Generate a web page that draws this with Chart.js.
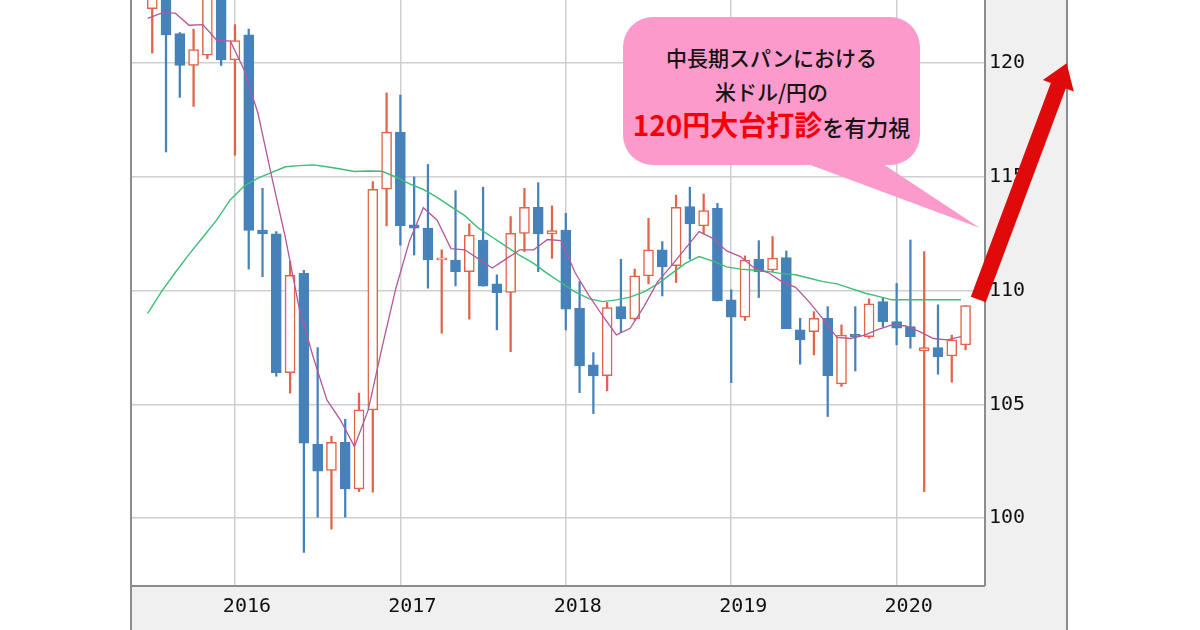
<!DOCTYPE html>
<html>
<head>
  <meta charset="UTF-8">
  <title>USD/JPY monthly</title>
  <script src="https://cdn.jsdelivr.net/npm/chart.js"></script>
  <style>
    body {
      margin: 0;
      background: #fff;
    }
    #wrap {
      position: relative;
      width: 1200px;
      height: 630px;
      overflow: hidden;
    }
    #chart, #overlay {
      position: absolute;
      left: 0;
      top: 0;
    }
    .bubble {
      position: absolute;
      left: 623px;
      top: 17px;
      width: 297px;
      height: 148px;
      padding-top: 24px;
      box-sizing: border-box;
      background: #fc9bcb;
      border-radius: 30px;
      text-align: center;
      font-family: "Noto Sans CJK JP", sans-serif;
      font-weight: 500;
      color: #141414;
    }
    .bubble div {
      height: 33.5px;
      line-height: 33.5px;
      font-size: 21px;
      white-space: nowrap;
    }
    .bubble .big {
      color: #f5000a;
      font-size: 28px;
      font-weight: 700;
    }
    .bubble .tail {
      font-size: 22px;
    }
  </style>
</head>
<body>
<div id="wrap">
  <canvas id="chart" width="1200" height="630"></canvas>
  <svg id="overlay" width="1200" height="630">
    <polygon points="797,160 877,160 980,228" fill="#fc9bcb"/>
    <polygon points="970.8,296.7 1050.8,83 1042.8,80 1066.7,63.3 1073.8,91.6 1065.8,88.6 985.8,302.3" fill="#e00a0a"/>
  </svg>
  <div class="bubble">
    <div>中長期スパンにおける</div>
    <div>米ドル/円の</div>
    <div><span class="big">120円大台打診</span><span class="tail">を有力視</span></div>
  </div>
</div>

<script>
  // monthly candles, Jul 2015 - Jun 2020
  const months = [
    '2015-07', '2015-08', '2015-09', '2015-10', '2015-11', '2015-12',
    '2016-01', '2016-02', '2016-03', '2016-04', '2016-05', '2016-06',
    '2016-07', '2016-08', '2016-09', '2016-10', '2016-11', '2016-12',
    '2017-01', '2017-02', '2017-03', '2017-04', '2017-05', '2017-06',
    '2017-07', '2017-08', '2017-09', '2017-10', '2017-11', '2017-12',
    '2018-01', '2018-02', '2018-03', '2018-04', '2018-05', '2018-06',
    '2018-07', '2018-08', '2018-09', '2018-10', '2018-11', '2018-12',
    '2019-01', '2019-02', '2019-03', '2019-04', '2019-05', '2019-06',
    '2019-07', '2019-08', '2019-09', '2019-10', '2019-11', '2019-12',
    '2020-01', '2020-02', '2020-03', '2020-04', '2020-05', '2020-06'
  ];
  const open = [
    122.4, 123.9, 121.3, 119.9, 120.35, 123.1,
    120.15, 121.25, 112.67, 112.5, 106.4, 110.77,
    103.25, 102.1, 103.34, 101.29, 104.76, 114.46,
    116.97, 112.9, 112.75, 111.35, 111.35, 110.84,
    112.23, 110.3, 109.93, 112.52, 113.67, 112.5,
    112.67, 109.23, 106.74, 106.27, 109.3, 108.76,
    110.65, 111.8, 111.1, 113.7, 112.85, 113.62,
    109.6, 108.84, 111.38, 110.91, 111.46, 108.28,
    108.2, 108.79, 105.9, 108.08, 107.98, 109.52,
    108.64, 108.42, 107.35, 107.5, 107.13, 107.62
  ];
  const high = [
    124.6, 125.3, 121.35, 121.5, 123.8, 123.7,
    121.7, 121.5, 114.5, 112.6, 111.3, 110.9,
    107.5, 103.6, 104.35, 105.5, 114.8, 118.7,
    118.6, 115.0, 115.55, 111.8, 114.4, 112.94,
    114.55, 110.7, 113.26, 114.5, 114.75, 113.73,
    113.4, 110.4, 107.28, 109.48, 111.38, 110.95,
    113.18, 112.16, 114.2, 114.55, 114.25, 113.84,
    110.04, 111.53, 112.2, 112.38, 111.75, 108.79,
    109.08, 109.3, 108.5, 109.3, 109.64, 109.7,
    110.32, 112.23, 111.72, 109.38, 108.05, 109.35
  ];
  const low = [
    120.45, 116.1, 118.5, 118.1, 120.2, 119.9,
    115.95, 110.95, 110.62, 106.24, 105.5, 98.5,
    100.05, 99.52, 100.05, 101.17, 101.14, 112.85,
    112.0, 111.57, 110.11, 108.13, 110.21, 108.75,
    110.2, 108.28, 107.32, 111.72, 110.84, 111.43,
    108.28, 105.52, 104.6, 105.6, 108.16, 108.7,
    110.3, 109.77, 110.36, 111.38, 112.5, 109.55,
    105.96, 108.69, 109.7, 110.84, 108.33, 106.77,
    107.18, 104.47, 105.79, 106.47, 107.91, 108.42,
    107.62, 107.47, 101.17, 106.33, 105.98, 107.4
  ];
  const close = [
    123.9, 121.25, 119.9, 120.6, 123.1, 120.15,
    121.0, 112.65, 112.5, 106.4, 110.68, 103.3,
    102.07, 103.34, 101.29, 104.76, 114.46, 116.97,
    112.86, 112.75, 111.35, 111.45, 110.84, 112.45,
    110.2, 109.92, 112.52, 113.67, 112.5, 112.64,
    109.19, 106.7, 106.25, 109.26, 108.76, 110.65,
    111.8, 111.06, 113.67, 112.94, 113.52, 109.55,
    108.84, 111.35, 110.84, 111.43, 108.33, 107.84,
    108.79, 106.27, 108.05, 107.98, 109.42, 108.64,
    108.35, 107.98, 107.5, 107.1, 107.84, 109.35
  ];
  // short moving average (purple)
  const maShort = [
    121.97, 122.2, 122.2, 121.67, 121.7, 121.02,
    120.97, 119.7, 117.8, 115.0, 112.3, 109.2,
    107.1, 105.2, 104.3, 103.15, 104.76, 107.5,
    110.1, 112.2, 113.65, 113.1, 111.85, 111.8,
    111.4, 111.0, 111.4, 111.8, 111.8, 112.25,
    112.2, 110.8, 109.8, 108.9, 108.06, 108.35,
    109.3, 110.4, 111.1, 111.85, 112.6, 112.3,
    111.75, 111.5, 111.0, 110.8, 110.4, 110.15,
    109.5, 108.75, 107.95, 107.9, 108.05, 108.3,
    108.5, 108.45, 108.2, 107.9, 107.84, 107.98
  ];
  // long moving average (green)
  const maLong = [
    109.0, 109.96, 110.8, 111.6, 112.35, 113.1,
    114.0, 114.6, 114.95, 115.2, 115.45, 115.5,
    115.53, 115.45, 115.35, 115.24, 115.26, 115.25,
    115.0, 114.7, 114.45, 114.1, 113.7, 113.3,
    112.75, 112.35, 111.95, 111.55, 111.2, 110.75,
    110.35, 109.95, 109.65, 109.52, 109.6, 109.72,
    109.95, 110.3, 110.75, 111.2, 111.5, 111.3,
    111.05, 110.95, 110.9, 110.85, 110.75, 110.7,
    110.55, 110.4, 110.3, 110.1, 109.9, 109.75,
    109.6, 109.6, 109.6, 109.6, 109.6, 109.6
  ];
  const yearLabels = ['2016', '2017', '2018', '2019', '2020'];
  const priceTicks = [100, 105, 110, 115, 120];

  const RED = '#e0644a';
  const BLUE = '#4682b9';
  const monoFont = { family: 'DejaVu Sans Mono', size: 20 };

  // month index, 0 = Jan 2016
  const monthIdx = months.map(m => (parseInt(m.slice(0, 4)) - 2016) * 12 + parseInt(m.slice(5)) - 1);
  const isUp = open.map((o, i) => close[i] >= o);
  // the average lines sit a little left of the candles in the source chart
  const maShift = -0.33;

  // no extra room for edge labels: the plot runs to the top of the page
  const noEdgePadding = s => {
    s.paddingTop = 0;
    s.paddingBottom = 0;
    s.paddingLeft = 0;
    s.paddingRight = 0;
  };

  // grey frame behind the axes, borders on top
  const framePlugin = {
    id: 'frame',
    beforeDraw(chart) {
      const { ctx, chartArea: a } = chart;
      const right = chart.scales.y.right;
      ctx.save();
      ctx.fillStyle = '#f0f0f0';
      ctx.fillRect(a.left, 0, right - a.left, chart.height);
      ctx.fillStyle = '#ffffff';
      ctx.fillRect(a.left, a.top, a.right - a.left, a.bottom - a.top);
      ctx.restore();
    },
    afterDraw(chart) {
      const { ctx, chartArea: a } = chart;
      const right = chart.scales.y.right;
      ctx.save();
      ctx.strokeStyle = '#8c8c8c';
      ctx.lineWidth = 2;
      ctx.beginPath();
      ctx.moveTo(a.left, 0); ctx.lineTo(a.left, chart.height);
      ctx.moveTo(right, 0); ctx.lineTo(right, chart.height);
      ctx.moveTo(a.right, 0); ctx.lineTo(a.right, a.bottom);
      ctx.moveTo(a.left, a.bottom); ctx.lineTo(a.right, a.bottom);
      ctx.stroke();
      ctx.restore();
    }
  };

  new Chart(document.getElementById('chart'), {
    type: 'bar',
    data: {
      datasets: [
        {
          type: 'line',
          data: monthIdx.map((x, i) => ({ x: x + maShift, y: maShort[i] })),
          borderColor: '#b4589a',
          borderWidth: 1.3,
          pointRadius: 0,
          order: 0
        },
        {
          type: 'line',
          data: monthIdx.map((x, i) => ({ x: x + maShift, y: maLong[i] })),
          borderColor: '#3dbd78',
          borderWidth: 1.4,
          pointRadius: 0,
          order: 1
        },
        {
          // bodies
          data: monthIdx.map((x, i) => ({ x, y: [open[i], close[i]] })),
          backgroundColor: isUp.map(u => u ? '#ffffff' : BLUE),
          borderColor: isUp.map(u => u ? RED : BLUE),
          borderWidth: 1.5,
          borderSkipped: false,
          barThickness: 10,
          grouped: false,
          order: 2
        },
        {
          // wicks
          data: monthIdx.map((x, i) => ({ x, y: [low[i], high[i]] })),
          backgroundColor: isUp.map(u => u ? RED : BLUE),
          borderWidth: 0,
          barThickness: 1.6,
          grouped: false,
          order: 3
        }
      ]
    },
    options: {
      responsive: false,
      animation: false,
      layout: { padding: { left: 131, right: 133, top: 0, bottom: 0 } },
      plugins: {
        legend: { display: false },
        tooltip: { enabled: false }
      },
      scales: {
        x: {
          type: 'linear',
          min: -7.54,
          max: 54.41,
          offset: false,
          grid: { color: '#cfcfcf', lineWidth: 1.5, offset: false, drawTicks: false },
          border: { display: false },
          afterBuildTicks: s => { s.ticks = yearLabels.map((_, i) => ({ value: i * 12 })); },
          afterFit: s => { s.height = 44; noEdgePadding(s); },
          ticks: {
            callback: (v, i) => yearLabels[i],
            labelOffset: 12,
            padding: 9,
            maxRotation: 0,
            autoSkip: false,
            color: '#111',
            font: monoFont
          }
        },
        y: {
          position: 'right',
          min: 97.02,
          max: 122.78,
          grid: { color: '#cfcfcf', lineWidth: 1.5, drawTicks: false },
          border: { display: false },
          afterBuildTicks: s => { s.ticks = priceTicks.map(v => ({ value: v })); },
          afterFit: s => { s.width = 82; noEdgePadding(s); },
          ticks: {
            padding: 4,
            color: '#111',
            font: monoFont
          }
        }
      }
    },
    plugins: [framePlugin]
  });
</script>
</body>
</html>
